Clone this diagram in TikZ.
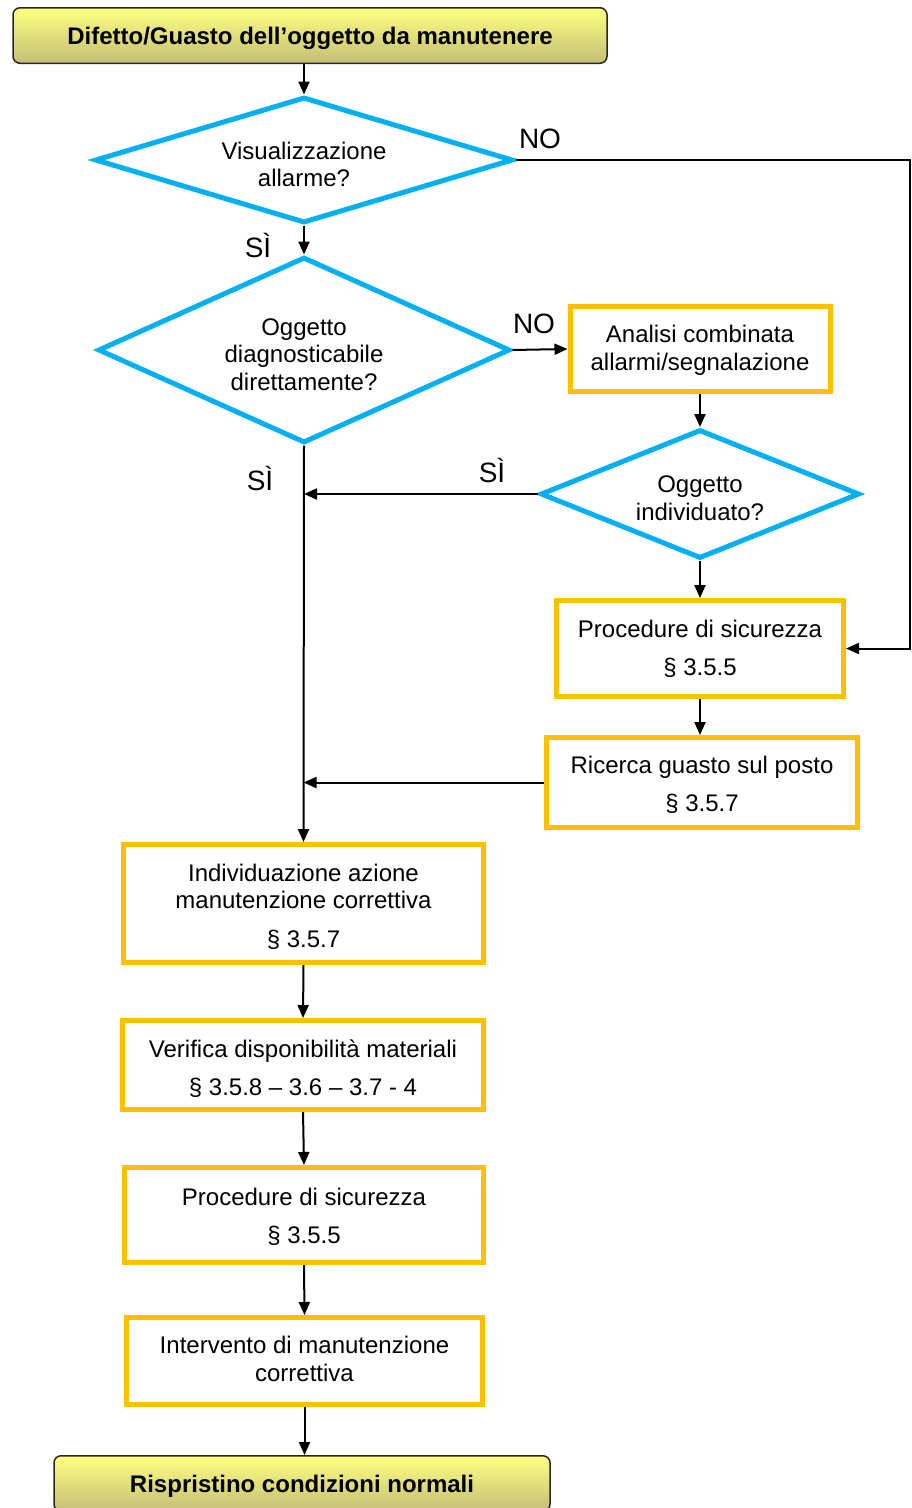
\documentclass[tikz,border=0pt]{standalone}
\usepackage{fontspec}
\setmainfont{Liberation Sans}
\usetikzlibrary{shapes.geometric,arrows.meta}
\definecolor{dblue}{HTML}{00B0F0}
\definecolor{dorange}{HTML}{FFC000}
\definecolor{ytop}{HTML}{FFFF80}
\definecolor{ybot}{HTML}{C4BE78}
\begin{document}
\begin{tikzpicture}[x=1pt,y=-1pt,
  txt/.style={font=\fontsize{24}{27.6}\selectfont, align=center, inner sep=0pt},
  btxt/.style={font=\fontsize{24}{27.6}\selectfont\bfseries, inner sep=0pt},
  term/.style={draw=black!85, line width=1.5pt, rounded corners=7pt,
    top color=ytop, bottom color=ybot, inner sep=0pt},
  dec/.style={diamond, draw=dblue, line width=5pt, inner sep=0pt, aspect=3},
  proc/.style={rectangle, draw=dorange, line width=5pt, inner sep=0pt},
  arr/.style={line width=2pt, -{Triangle[length=13pt,width=11pt]}},
  lab/.style={font=\fontsize{28}{32}\selectfont, inner sep=0pt}
]
\useasboundingbox (0,0) rectangle (912,1508);

% shapes
\node[term, minimum width=594pt, minimum height=55.5pt] (top) at (310,35.5) {};
\node[dec, minimum width=418pt, minimum height=126pt] (d1) at (304,160) {};
\node[dec, minimum width=412pt, minimum height=186pt] (d2) at (304,350) {};
\node[proc, minimum width=260pt, minimum height=85pt] (an) at (700,349) {};
\node[dec, minimum width=319pt, minimum height=129pt] (d3) at (700,494) {};
\node[proc, minimum width=287pt, minimum height=96pt] (p1) at (700,648.5) {};
\node[proc, minimum width=311pt, minimum height=90pt] (ri) at (702,782.5) {};
\node[proc, minimum width=360pt, minimum height=118pt] (ind) at (303.5,903.5) {};
\node[proc, minimum width=361pt, minimum height=89pt] (ver) at (303,1065) {};
\node[proc, minimum width=359pt, minimum height=95pt] (p2) at (304,1215) {};
\node[proc, minimum width=356pt, minimum height=87pt] (int) at (304.5,1361) {};
\node[term, minimum width=496pt, minimum height=55.5pt] (end) at (302,1483.5) {};

% texts
\node[btxt] (topt) at (310,38.5) {Difetto/Guasto dell’oggetto da manutenere};
\node[txt] (d1t) at (304,164.5) {Visualizzazione\\allarme?};
\node[txt] (d2t) at (304,354.5) {Oggetto\\diagnosticabile\\direttamente?};
\node[txt] (ant) at (700,350.5) {Analisi combinata\\allarmi/segnalazione};
\node[txt] (d3t) at (700,498) {Oggetto\\individuato?};
\node[txt] (p1t) at (700,648.5) {Procedure di sicurezza\\[10.5pt]§ 3.5.5};
\node[txt] (rit) at (702,785) {Ricerca guasto sul posto\\[10pt]§ 3.5.7};
\node[txt] (indt) at (303.5,906.5) {Individuazione azione\\manutenzione correttiva\\[10.5pt]§ 3.5.7};
\node[txt] (vert) at (303,1069) {Verifica disponibilità materiali\\[10.5pt]§ 3.5.8 – 3.6 – 3.7 - 4};
\node[txt] (p2t) at (304,1216.5) {Procedure di sicurezza\\[10.5pt]§ 3.5.5};
\node[txt] (intt) at (304.5,1359) {Intervento di manutenzione\\correttiva};
\node[btxt] (endt) at (302,1486.5) {Rispristino condizioni normali};

% labels
\node[lab] (l1) at (540,139) {NO};
\node[lab] (l2) at (258,245) {SÌ};
\node[lab] (l3) at (534,324) {NO};
\node[lab] (l4) at (492,470) {SÌ};
\node[lab] (l5) at (260,478) {SÌ};

\coordinate (rc) at (910,160);

% connectors
\draw[arr] (d1.north |- top.south) -- (d1.north);
\draw[arr] (d1.south) -- (d2.north);
\draw[arr] (d1.east) -- (rc) |- (p1.east);
\draw[arr] (d2.east) -- (an.west);
\draw[arr] (an.south) -- (d3.north);
\draw[arr] (d3.south) -- (p1.north);
\draw[arr] (d3.west) -- (d2.south |- d3.west);
\draw[arr] (p1.south) -- (p1.south |- ri.north);
\draw[arr] (ri.west) -- (ind.north |- ri.west);
\draw[arr] (d2.south) -- (ind.north);
\draw[arr] (ind.south) -- (ver.north);
\draw[arr] (ver.south) -- (p2.north);
\draw[arr] (p2.south) -- (int.north);
\draw[arr] (int.south) -- (end.north -| int.south);
\end{tikzpicture}
\end{document}
